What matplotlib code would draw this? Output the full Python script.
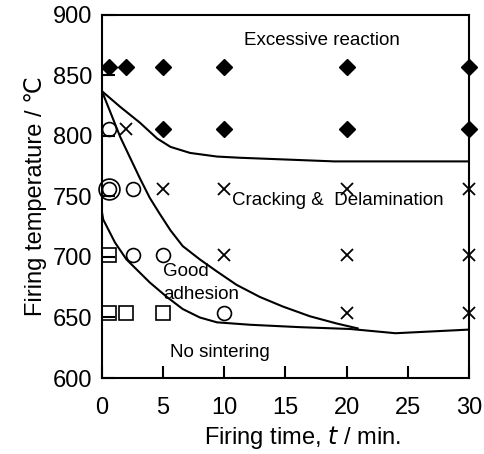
import matplotlib
matplotlib.use("Agg")
import matplotlib.pyplot as plt

plt.rcParams['font.family'] = ['Liberation Sans', 'DejaVu Sans']

# Boundary curves (time in min, temperature in deg C)
curveA_t = [0, 1.5, 3.1, 4.5, 5.6, 7.2, 9.4, 11.3, 19, 30]
curveA_T = [837, 824, 811, 798, 791, 786, 783, 782, 779, 779]
curveB_t = [0, 1.5, 3.1, 3.9, 4.7, 5.6, 6.6, 8.0, 9.4, 11.0, 12.9, 14.8, 17.0, 19.2, 20.9]
curveB_T = [837, 799, 765, 749, 736, 722, 709, 698, 688, 677, 667, 659, 651, 645, 641]
curveC_t = [0, 0.1, 1.06, 2.0, 3.1, 3.9, 5.3, 6.6, 8.0, 9.4, 12.1, 16.2, 20.3, 24, 30]
curveC_T = [737, 731, 712, 698, 687, 679, 667, 657, 650, 646, 644, 642, 640.5, 637, 640]

# Data points
diamond_t = [0.6, 2, 5, 10, 20, 30, 5, 10, 20, 30]
diamond_T = [857, 857, 857, 857, 857, 857, 806, 806, 806, 806]
cross_t = [2, 5, 10, 20, 30, 10, 20, 30, 20, 30]
cross_T = [806, 756, 756, 756, 756, 702, 702, 702, 654, 654]
circle_t = [0.6, 0.6, 2.5, 2.5, 5, 10]
circle_T = [806, 756, 756, 702, 702, 654]
bigcircle_t = [0.6]
bigcircle_T = [756]
square_t = [0.6, 0.6, 2, 5]
square_T = [702, 654, 654, 654]

fig = plt.figure(figsize=(4.84, 4.54), dpi=100)
ax = fig.add_axes([0.2107, 0.1674, 0.7583, 0.7996])

for t, T in [(curveA_t, curveA_T), (curveB_t, curveB_T), (curveC_t, curveC_T)]:
    ax.plot(t, T, color='black', lw=1.5, zorder=2)

kw = dict(linestyle='none', clip_on=False, zorder=3)
ax.plot(diamond_t, diamond_T, marker='D', ms=8.5, mfc='black', mec='black', **kw)
ax.plot(cross_t, cross_T, marker='x', ms=8, mew=1.3, color='black', **kw)
ax.plot(circle_t, circle_T, marker='o', ms=10, mfc='none', mec='black', mew=1.2, **kw)
ax.plot(bigcircle_t, bigcircle_T, marker='o', ms=15, mfc='none', mec='black', mew=1.2, **kw)
ax.plot(square_t, square_T, marker='s', ms=10, mfc='none', mec='black', mew=1.2, **kw)

ax.set_xlim(0, 30)
ax.set_ylim(600, 900)
ax.set_xticks([0, 5, 10, 15, 20, 25, 30])
ax.set_yticks([600, 650, 700, 750, 800, 850, 900])
ax.tick_params(direction='in', length=9, width=1.5, labelsize=17)
ax.tick_params(axis='x', pad=14)
ax.tick_params(axis='y', pad=7)
for s in ax.spines.values():
    s.set_linewidth(1.5)

ax.set_xlabel('Firing time, $\\mathit{t}$ / min.', fontsize=17, labelpad=3, x=0.545)
ax.set_ylabel('Firing temperature / ℃', fontsize=17, labelpad=4)

ax.text(18, 879, 'Excessive reaction', fontsize=13.5, ha='center', va='center')
ax.text(19.3, 747, 'Cracking &  Delamination', fontsize=13.5, ha='center', va='center')
ax.text(5.0, 688, 'Good', fontsize=13.5, ha='left', va='center')
ax.text(5.0, 669, 'adhesion', fontsize=13.5, ha='left', va='center')
ax.text(5.6, 621, 'No sintering', fontsize=13.5, ha='left', va='center')

fig.savefig('out.png', dpi=100)
